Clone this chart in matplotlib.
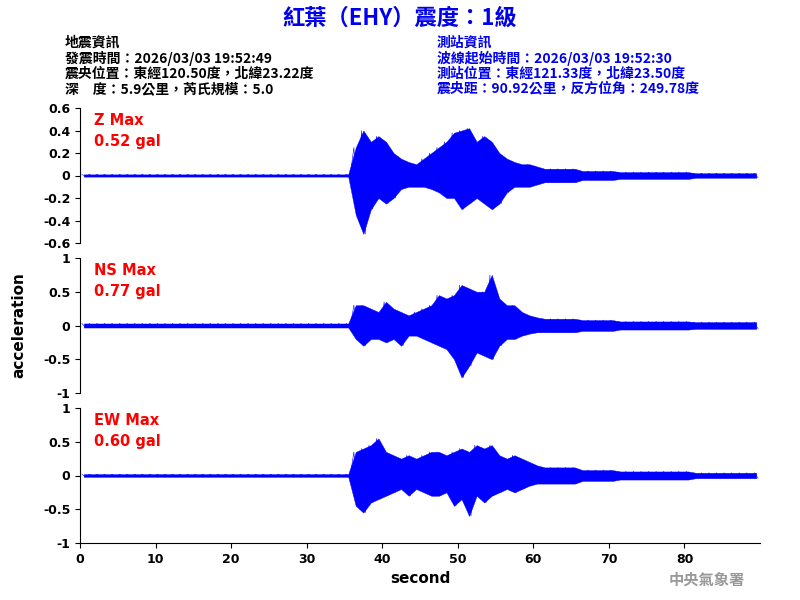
import matplotlib
matplotlib.use("Agg")
import matplotlib.pyplot as plt
import numpy as np

plt.rcParams['font.family'] = ['Noto Sans CJK TC', 'DejaVu Sans']

seconds = list(range(90))
# per-second envelopes (gal)
z_max = [0.01]*36 + [0.25,0.40,0.30,0.35,0.30,0.20,0.15,0.12,0.10,0.15,0.20,0.25,0.30,0.38,0.40,0.42,0.30,0.35,0.30,0.20,0.15,0.12,0.10,0.10,0.08] + [0.06]*5 + [0.04]*5 + [0.03]*10 + [0.02]*9
z_min = [-0.01]*36 + [-0.35,-0.52,-0.30,-0.20,-0.25,-0.20,-0.12,-0.10,-0.10,-0.10,-0.12,-0.15,-0.20,-0.20,-0.30,-0.25,-0.20,-0.25,-0.30,-0.25,-0.15,-0.10,-0.10,-0.10,-0.08] + [-0.06]*5 + [-0.04]*5 + [-0.03]*10 + [-0.02]*9
ns_max = [0.03]*36 + [0.30,0.30,0.25,0.20,0.35,0.25,0.20,0.15,0.20,0.25,0.30,0.45,0.40,0.45,0.60,0.55,0.50,0.50,0.75,0.40,0.30,0.30,0.20,0.15,0.12] + [0.10]*5 + [0.08]*5 + [0.06]*10 + [0.05]*9
ns_min = [-0.03]*36 + [-0.20,-0.30,-0.20,-0.20,-0.25,-0.20,-0.30,-0.15,-0.15,-0.20,-0.25,-0.30,-0.35,-0.50,-0.77,-0.60,-0.40,-0.45,-0.50,-0.30,-0.20,-0.20,-0.15,-0.12,-0.10] + [-0.10]*5 + [-0.08]*5 + [-0.06]*10 + [-0.05]*9
ew_max = [0.02]*36 + [0.35,0.40,0.45,0.55,0.35,0.30,0.25,0.30,0.25,0.30,0.35,0.35,0.30,0.35,0.40,0.35,0.45,0.40,0.45,0.30,0.25,0.30,0.25,0.20,0.15] + [0.12]*5 + [0.08]*5 + [0.06]*10 + [0.04]*9
ew_min = [-0.02]*36 + [-0.45,-0.55,-0.40,-0.35,-0.30,-0.25,-0.20,-0.30,-0.20,-0.25,-0.30,-0.30,-0.25,-0.45,-0.35,-0.60,-0.30,-0.40,-0.30,-0.25,-0.20,-0.25,-0.20,-0.15,-0.12] + [-0.12]*5 + [-0.08]*5 + [-0.06]*10 + [-0.04]*9

labels = ["Z Max\n0.52 gal", "NS Max\n0.77 gal", "EW Max\n0.60 gal"]
ylims = [(-0.6, 0.6), (-1, 1), (-1, 1)]
yticks = [[-0.6,-0.4,-0.2,0,0.2,0.4,0.6], [-1,-0.5,0,0.5,1], [-1,-0.5,0,0.5,1]]
series = [(z_max, z_min), (ns_max, ns_min), (ew_max, ew_min)]

fig = plt.figure(figsize=(8, 6), dpi=100)
tops = [108, 258, 408]
for i, (mx, mn) in enumerate(series):
    top = tops[i]
    ax = fig.add_axes([80/800, 1-(top+135)/600, 680/800, 135/600])
    t = np.array(seconds) + 0.5
    ax.fill_between(t, mn, mx, color='blue', lw=0.3, edgecolor='blue')
    x = []; y = []
    for s_, a, b in zip(seconds, mx, mn):
        x += [s_ + 0.25, s_ + 0.75]; y += [a, b]
    ax.plot(x, y, color='blue', lw=0.4)
    ax.set_xlim(0, 90); ax.set_ylim(*ylims[i])
    ax.set_yticks(yticks[i])
    ax.set_yticklabels([('%g' % v) for v in yticks[i]], fontsize=9, fontweight='bold', family='DejaVu Sans')
    for s in ['top', 'right']:
        ax.spines[s].set_visible(False)
    ax.text(0.02, 0.96, labels[i], transform=ax.transAxes, color='red', fontsize=10.5,
            fontweight='bold', va='top', family='DejaVu Sans', linespacing=1.5)
    if i < 2:
        ax.spines['bottom'].set_visible(False)
        ax.set_xticks([])
    else:
        ax.set_xticks(range(0, 90, 10))
        ax.set_xticklabels([str(v) for v in range(0, 90, 10)], fontsize=9, fontweight='bold', family='DejaVu Sans')
        ax.set_xlabel('second', fontsize=11, fontweight='bold', family='DejaVu Sans')
    if i == 1:
        ax.set_ylabel('acceleration', fontsize=11, fontweight='bold', family='DejaVu Sans', labelpad=12)

fig.text(0.5, 1-18/600, '紅葉（EHY）震度：1級', color='#0000ee', fontsize=16, fontweight='bold', ha='center', va='center')
left = ['地震資訊', '發震時間：2026/03/03 19:52:49', '震央位置：東經120.50度，北緯23.22度', '深　度：5.9公里，芮氏規模：5.0']
right = ['測站資訊', '波線起始時間：2026/03/03 19:52:30', '測站位置：東經121.33度，北緯23.50度', '震央距：90.92公里，反方位角：249.78度']
for k, (l, r) in enumerate(zip(left, right)):
    yy = 1-(43+k*15.5)/600
    fig.text(65/800, yy, l, fontsize=10, fontweight='bold', color='black', va='center')
    fig.text(437/800, yy, r, fontsize=10, fontweight='bold', color='#0000ee', va='center')
fig.text(745/800, 1-580/600, '中央氣象署', fontsize=11, fontweight='bold', color='#999999', ha='right', va='center')
fig.savefig('out.png', dpi=100)
